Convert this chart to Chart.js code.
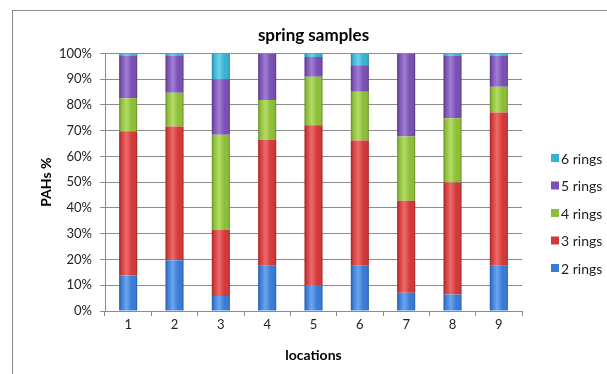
<!DOCTYPE html>
<html>
<head>
<meta charset="utf-8">
<script src="https://cdn.jsdelivr.net/npm/chart.js@4"></script>
<style>
  body { margin: 0; background: #fff; overflow: hidden; }
  #wrap { position: relative; width: 607px; height: 374px; }
  #frame {
    position: absolute; left: 12px; top: 10px; width: 700px; height: 400px;
    border-left: 1px solid #8a8a8a; border-top: 1px solid #8a8a8a;
  }
  #chart { position: absolute; left: 0; top: 0; }
</style>
</head>
<body>
<div id="wrap">
  <div id="frame"></div>
  <canvas id="chart" width="607" height="374"></canvas>
</div>
<script>
// data (percent of total PAHs per location)
const locations = ["1", "2", "3", "4", "5", "6", "7", "8", "9"];
const seriesNames = ["2 rings", "3 rings", "4 rings", "5 rings", "6 rings"];
const rings2 = [13.8, 19.7, 5.8, 17.6, 9.9, 17.6, 7.1, 6.4, 17.6];
const rings3 = [56.0, 51.9, 25.7, 48.9, 62.2, 48.6, 35.7, 43.5, 59.5];
const rings4 = [12.8, 13.1, 36.9, 15.4, 18.8, 18.9, 24.9, 24.9, 10.0];
const rings5 = [16.4, 14.3, 21.6, 18.1, 7.7, 10.3, 32.3, 24.4, 12.1];
const rings6 = [1.0, 1.0, 10.0, 0.0, 1.4, 4.6, 0.0, 0.8, 0.8];
const yTicks = [0, 10, 20, 30, 40, 50, 60, 70, 80, 90, 100];

const FONT = "Lato, 'Open Sans', sans-serif";
const BAR_PCT = 0.39;

// base / light / dark shades per series, for the bevelled look
const shades = [
  { base: "#3a7bd5", light: "#6aa6ee", dark: "#245aa3" },
  { base: "#d23a3a", light: "#ec6a6a", dark: "#9e2424" },
  { base: "#8dbd3a", light: "#b3dc66", dark: "#658d22" },
  { base: "#7a50b2", light: "#a07ed4", dark: "#553582" },
  { base: "#38b2cf", light: "#70d2ea", dark: "#22849c" },
];

// horizontal gradient across a bar: dark edges, lighter middle
function bevel(s) {
  return function (context) {
    const chart = context.chart;
    const xScale = chart.scales.x;
    if (!chart.chartArea || !xScale || context.dataIndex === undefined) return s.base;
    const cx = xScale.getPixelForValue(context.dataIndex);
    const w = (xScale.width / locations.length) * BAR_PCT;
    if (!isFinite(cx) || !isFinite(w) || w <= 0) return s.base;
    const g = chart.ctx.createLinearGradient(cx - w / 2, 0, cx + w / 2, 0);
    g.addColorStop(0, s.dark);
    g.addColorStop(0.12, s.base);
    g.addColorStop(0.4, s.light);
    g.addColorStop(0.7, s.base);
    g.addColorStop(0.9, s.base);
    g.addColorStop(1, s.dark);
    return g;
  };
}

const seriesData = [rings2, rings3, rings4, rings5, rings6];

const datasets = seriesNames.map((name, i) => ({
  label: name,
  data: seriesData[i],
  backgroundColor: bevel(shades[i]),
  legendColor: shades[i].base,
  borderWidth: 0,
  categoryPercentage: 1.0,
  barPercentage: BAR_PCT,
}));

// legend on the right, top item = last series
const rightLegend = {
  id: "rightLegend",
  afterDraw(chart) {
    const ctx = chart.ctx;
    const list = chart.data.datasets.slice().reverse();
    ctx.save();
    ctx.font = "14px " + FONT;
    ctx.textBaseline = "middle";
    list.forEach((ds, i) => {
      const y = 158 + i * 27.5;
      ctx.fillStyle = ds.legendColor;
      ctx.fillRect(551, y - 4, 8, 8);
      ctx.fillStyle = "#222";
      ctx.fillText(ds.label, 561, y + 1);
    });
    ctx.restore();
  },
};

new Chart(document.getElementById("chart"), {
  type: "bar",
  data: { labels: locations, datasets },
  options: {
    responsive: false,
    devicePixelRatio: 1,
    animation: false,
    layout: { padding: { left: 12, top: 10, right: 85, bottom: 0 } },
    plugins: {
      legend: { display: false },
      tooltip: { enabled: false },
      title: {
        display: true,
        fullSize: false,
        text: "spring samples",
        color: "#000",
        font: { family: FONT, size: 17, weight: "bold" },
        padding: { top: 15, bottom: 8 },
      },
    },
    scales: {
      x: {
        stacked: true,
        grid: {
          offset: true,
          drawOnChartArea: false,
          drawTicks: true,
          tickLength: 5,
          color: "#8c8c8c",
        },
        border: { color: "#8c8c8c" },
        ticks: { color: "#222", font: { family: FONT, size: 13 }, padding: 1 },
        title: {
          display: true,
          text: "locations",
          color: "#000",
          font: { family: FONT, size: 14, weight: "bold" },
          padding: { top: 0, bottom: 10 },
        },
        afterFit(scale) { scale.height = 63; },
      },
      y: {
        stacked: true,
        min: 0,
        max: 100,
        afterBuildTicks(scale) { scale.ticks = yTicks.map((v) => ({ value: v })); },
        grid: { color: "#8c8c8c", tickLength: 5 },
        border: { color: "#8c8c8c" },
        ticks: {
          color: "#222",
          font: { family: FONT, size: 13 },
          padding: 8,
          callback: (v) => v + "%",
        },
        title: {
          display: true,
          text: "PAHs %",
          color: "#000",
          font: { family: FONT, size: 14, weight: "bold" },
          padding: { top: 26, bottom: 0 },
        },
        afterFit(scale) { scale.width = 93; },
      },
    },
  },
  plugins: [rightLegend],
});
</script>
</body>
</html>
